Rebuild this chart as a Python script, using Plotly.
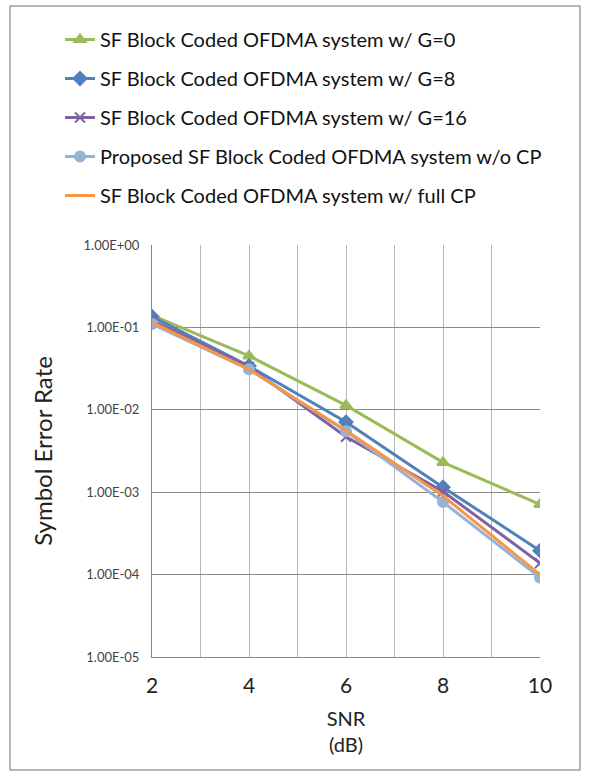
import plotly.graph_objects as go

# SNR points (dB)
snr = [2, 4, 6, 8, 10]

# Symbol error rate per scheme
ser_g0 = [0.14, 0.045, 0.0113, 0.0023, 0.00071]
ser_g8 = [0.135, 0.034, 0.0071, 0.00115, 0.000195]
ser_g16 = [0.122, 0.033, 0.0047, 0.00102, 0.000138]
ser_nocp = [0.11, 0.031, 0.0055, 0.00076, 0.000092]
ser_fullcp = [0.115, 0.031, 0.0056, 0.00090, 0.000100]

names = [
    "SF Block Coded OFDMA system w/ G=0",
    "SF Block Coded OFDMA system w/ G=8",
    "SF Block Coded OFDMA system w/ G=16",
    "Proposed SF Block Coded OFDMA system w/o CP",
    "SF Block Coded OFDMA system w/ full CP",
]

y_tickvals = [1, 0.1, 0.01, 0.001, 0.0001, 0.00001]
y_ticktext = ["1.00E+00", "1.00E-01", "1.00E-02", "1.00E-03", "1.00E-04", "1.00E-05"]
x_tickvals = [2, 4, 6, 8, 10]

series = [
    (ser_g0, names[0], "#9BBB59", "triangle-up", 10),
    (ser_g8, names[1], "#4F81BD", "diamond", 10),
    (ser_g16, names[2], "#7F62A0", "x-thin", 10),
    (ser_nocp, names[3], "#95B3D7", "circle", 10),
    (ser_fullcp, names[4], "#F79646", None, 0),
]

fig = go.Figure()
for i, (vals, nm, col, sym, sz) in enumerate(series):
    mode = "lines+markers" if sym else "lines"
    marker = dict(color=col, size=sz, symbol=sym, line=dict(color=col, width=2)) if sym else None
    fig.add_trace(go.Scatter(
        x=snr, y=vals, name=nm, mode=mode,
        line=dict(color=col, width=3),
        marker=marker,
        legendgroup=f"g{i}",
    ))

font_main = "Lato, Open Sans, Arial"

L, R, T, B = 152, 49, 245, 115
W, H = 589, 772
pw, ph = W - L - R, H - T - B


def px_x(px):
    return (px - L) / pw


def px_y(py):
    return (H - B - py) / ph


fig.update_layout(
    width=W, height=H,
    margin=dict(l=L, r=R, t=T, b=B, autoexpand=False),
    paper_bgcolor="white",
    plot_bgcolor="white",
    font=dict(family=font_main, color="#222"),
    showlegend=True,
    legend=dict(
        x=px_x(60), y=px_y(20), xanchor="left", yanchor="top",
        font=dict(size=20, family=font_main, color="#111"),
        tracegroupgap=10,
        itemwidth=30,
        bgcolor="rgba(0,0,0,0)",
    ),
    xaxis=dict(
        range=[2, 10],
        tickvals=x_tickvals,
        ticktext=[str(v) for v in x_tickvals],
        tickfont=dict(size=21, color="#222"),
        ticklabelstandoff=10,
        showgrid=True, gridcolor="#b8b8b8", gridwidth=1,
        minor=dict(dtick=1, showgrid=True, gridcolor="#b8b8b8"),
        showline=True, linecolor="#888", linewidth=1,
        zeroline=False, ticks="",
        title=dict(text="SNR<br>(dB)", font=dict(size=20, color="#222"), standoff=15),
    ),
    yaxis=dict(
        type="log", range=[-5, 0],
        tickvals=y_tickvals, ticktext=y_ticktext,
        tickfont=dict(size=13, color="#444"),
        ticklabelstandoff=9,
        showgrid=True, gridcolor="#8a8a8a", gridwidth=1,
        showline=True, linecolor="#888", linewidth=1,
        zeroline=False, ticks="",
        title=dict(text="Symbol Error Rate", font=dict(size=24, color="#222"), standoff=24),
    ),
)

# Outer chart frame
fig.add_shape(
    type="rect", xref="paper", yref="paper",
    x0=px_x(10), x1=px_x(580), y0=px_y(770), y1=px_y(6),
    line=dict(color="#a0a0a0", width=1.5), fillcolor="rgba(0,0,0,0)",
    layer="below",
)

fig.write_html("out.html")
